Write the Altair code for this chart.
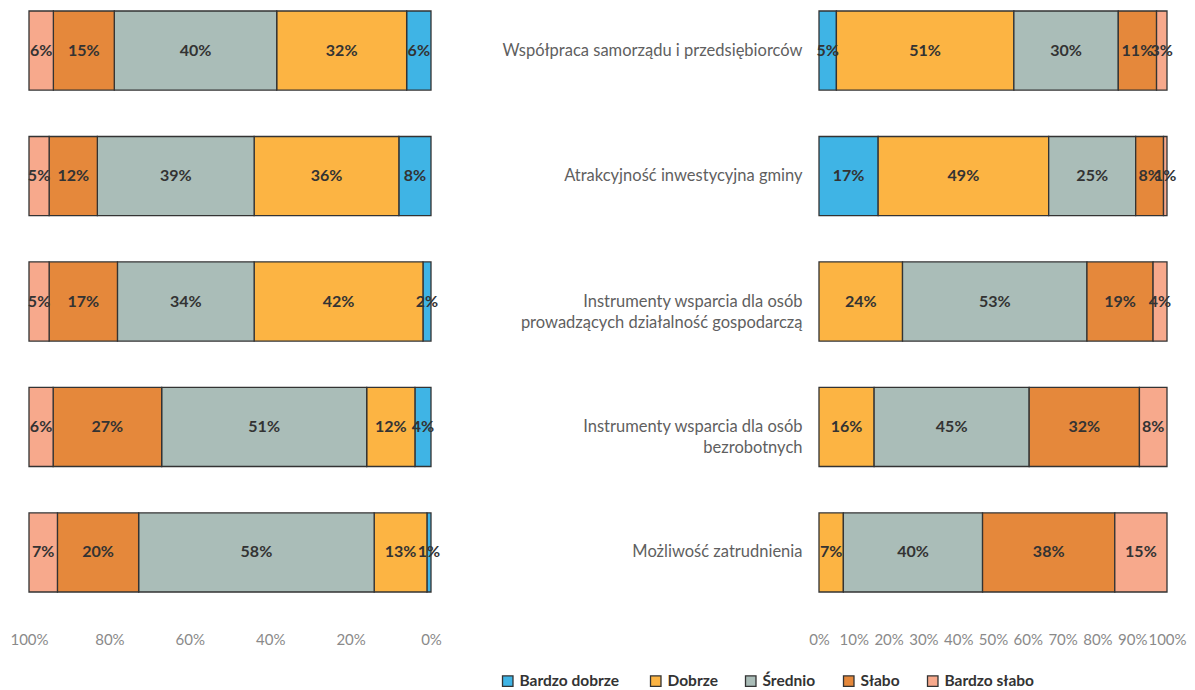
import altair as alt
import pandas as pd

NB = "\u00a0"
categories = [
    "Współpraca samorządu i przedsiębiorców",
    "Atrakcyjność inwestycyjna gminy",
    "Instrumenty wsparcia dla osób" + NB * 7 + "|prowadzących działalność gospodarczą",
    "Instrumenty wsparcia dla osób|bezrobotnych" + NB * 16,
    "Możliwość zatrudnienia",
]
ratings = ["Bardzo  dobrze", "Dobrze", "Średnio", "Słabo", "Bardzo słabo"]
colors = ["#3FB4E5", "#FCB443", "#AABDB8", "#E5883B", "#F7A98C"]

left_bardzo_dobrze = [6, 8, 2, 4, 1]
left_dobrze = [32, 36, 42, 12, 13]
left_srednio = [40, 39, 34, 51, 58]
left_slabo = [15, 12, 17, 27, 20]
left_bardzo_slabo = [6, 5, 5, 6, 7]

right_bardzo_dobrze = [5, 17, 0, 0, 0]
right_dobrze = [51, 49, 24, 16, 7]
right_srednio = [30, 25, 53, 45, 40]
right_slabo = [11, 8, 19, 32, 38]
right_bardzo_slabo = [3, 1, 4, 8, 15]

left_tick_values = [0, 0.2, 0.4, 0.6, 0.8, 1.0]
right_tick_values = [0, 0.1, 0.2, 0.3, 0.4, 0.5, 0.6, 0.7, 0.8, 0.9, 1.0]


def build(series):
    rows = []
    for ci, cat in enumerate(categories):
        for ri, r in enumerate(ratings):
            v = series[ri][ci]
            if v > 0:
                rows.append({"cat": cat, "rating": r, "order": ri, "v": v})
    return pd.DataFrame(rows)


left_df = build([left_bardzo_dobrze, left_dobrze, left_srednio, left_slabo, left_bardzo_slabo])
right_df = build([right_bardzo_dobrze, right_dobrze, right_srednio, right_slabo, right_bardzo_slabo])

FONT = "Lato"

legend = alt.Legend(
    title=None, orient="none", legendX=471, legendY=662, direction="horizontal",
    columns=5, symbolType="square", symbolSize=110, symbolStrokeColor="#333",
    symbolStrokeWidth=1.3, labelFont=FONT, labelFontSize=15.5, labelFontWeight="bold",
    labelColor="#333", columnPadding=24, symbolOffset=0, labelOffset=4,
)
color = alt.Color("rating:N", scale=alt.Scale(domain=ratings, range=colors), legend=legend)


def panel(df, reverse, ticks, yaxis, width):
    base = alt.Chart(df).transform_stack(
        stack="v", groupby=["cat"], as_=["x0", "x1"],
        sort=[alt.SortField("order", "ascending")], offset="normalize",
    ).transform_calculate(mid="(datum.x0 + datum.x1) / 2", lab="datum.v + '%'")
    y = alt.Y("cat:N", sort=categories, title=None, axis=yaxis,
              scale=alt.Scale(paddingInner=0.37, paddingOuter=0))
    xs = alt.Scale(domain=[0, 1], reverse=reverse, nice=False)
    xaxis = alt.Axis(values=ticks, format=".0%", title=None, grid=False, domain=False,
                     ticks=False, labelFlush=False, labelOverlap=False, labelPadding=40,
                     labelFont=FONT, labelFontSize=15, labelColor="#8a8a8a")
    bars = base.mark_bar(stroke="#333", strokeWidth=1.3).encode(
        x=alt.X("x0:Q", scale=xs, axis=xaxis), x2="x1:Q", y=y, color=color,
    )
    text = base.mark_text(font=FONT, fontSize=16, fontWeight="bold", color="#333").encode(
        x=alt.X("mid:Q", scale=xs, axis=xaxis), y=y, text="lab:N",
    )
    return (bars + text).properties(width=width, height=581)


left = panel(left_df, True, left_tick_values, None, 402)
right_axis = alt.Axis(labelExpr="split(datum.label, '|')", ticks=False, domain=False,
                      labelPadding=17, labelLimit=500, labelFont=FONT, labelFontSize=16.5,
                      labelColor="#5f5f5f", labelLineHeight=21, labelBaseline="middle")
right = panel(right_df, False, right_tick_values, right_axis, 348)

chart = alt.hconcat(left, right, spacing=60).properties(
    padding={"left": 1, "top": 2, "right": 0, "bottom": 0}
).configure_view(stroke=None)

chart.save("out.html", embed_options={"renderer": "svg", "actions": False})
